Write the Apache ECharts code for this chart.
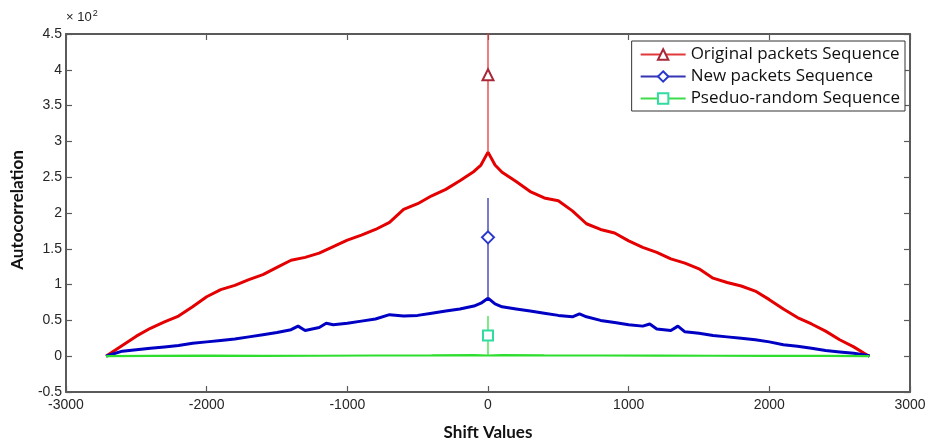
<!DOCTYPE html>
<html><head><meta charset="utf-8">
<script src="https://cdn.jsdelivr.net/npm/echarts@6/dist/echarts.min.js"></script>
<style>html,body{margin:0;padding:0;background:#fff}#c{width:931px;height:444px}</style>
</head><body><div id="c"></div>
<script>
// ---- data (autocorrelation in units of 10^2) ----
const seriesNames = ['Original packets Sequence', 'New packets Sequence', 'Pseduo-random Sequence'];

const originalShift = [-2715,-2700,-2600,-2500,-2400,-2300,-2200,-2100,-2000,-1900,-1800,-1700,-1600,-1500,-1400,-1300,-1200,-1100,-1000,-900,-800,-700,-600,-500,-400,-300,-200,-100,-50,0,50,100,200,300,400,500,600,700,800,900,1000,1100,1200,1300,1400,1500,1600,1700,1800,1900,2000,2100,2200,2300,2400,2500,2600,2700,2712];
const originalValue = [0,0.02,0.15,0.28,0.39,0.48,0.56,0.69,0.83,0.93,0.99,1.07,1.14,1.24,1.34,1.38,1.44,1.53,1.62,1.69,1.77,1.87,2.05,2.13,2.24,2.33,2.45,2.58,2.67,2.85,2.67,2.57,2.44,2.30,2.21,2.17,2.03,1.85,1.77,1.72,1.61,1.52,1.45,1.36,1.30,1.22,1.09,1.03,0.98,0.91,0.79,0.66,0.54,0.45,0.35,0.23,0.13,0.01,0];

const newShift = [-2715,-2700,-2600,-2500,-2400,-2300,-2200,-2100,-2000,-1900,-1800,-1700,-1600,-1500,-1400,-1350,-1300,-1200,-1150,-1100,-1000,-900,-800,-700,-600,-500,-400,-300,-200,-100,-50,0,50,100,200,300,400,500,600,650,700,800,900,1000,1100,1150,1200,1300,1350,1400,1500,1600,1700,1800,1900,2000,2100,2200,2300,2400,2500,2600,2700,2712];
const newValue = [0,0.01,0.07,0.09,0.11,0.13,0.15,0.18,0.20,0.22,0.24,0.27,0.30,0.33,0.37,0.42,0.36,0.40,0.46,0.44,0.46,0.49,0.52,0.58,0.56,0.57,0.60,0.63,0.66,0.70,0.74,0.81,0.73,0.69,0.66,0.63,0.60,0.57,0.55,0.59,0.55,0.50,0.47,0.44,0.42,0.45,0.38,0.36,0.42,0.34,0.32,0.29,0.27,0.25,0.23,0.20,0.16,0.14,0.11,0.08,0.06,0.04,0.01,0];

const pseudoShift = [-2715,-2400,-2000,-1600,-1200,-800,-400,-100,0,100,400,800,1200,1600,2000,2400,2712];
const pseudoValue = [0,0.005,0.008,0.004,0.006,0.01,0.012,0.015,0.01,0.015,0.012,0.01,0.008,0.006,0.005,0.004,0];

// zero-shift peak of each sequence: [curve base, marker, top of spike]
const peakShift = 0;
const peakBase   = [2.85, 0.81, 0.01];
const peakMarker = [3.93, 1.66, 0.29];
const peakTop    = [5.00, 2.21, 0.56];

const xTickLabels = ['-3000','-2000','-1000','0','1000','2000','3000'];
const yTickLabels = ['-0.5','0','0.5','1','1.5','2','2.5','3','3.5','4','4.5'];

// ---- styles ----
const curveColors  = ['#e40000', '#0000c4', '#2ede2e'];
const curveWidths  = [3, 3, 2.2];
const spikeColors  = ['#e23a3a', '#3434b4', '#3edc4a'];
const markerColors = ['#a8283a', '#2a38cc', '#30dca0'];
const markerSymbols = ['emptyTriangle', 'emptyDiamond', 'emptyRect'];
const markerSizes = [11, 12, 10];

const zip = (a, b) => a.map((v, i) => [v, b[i]]);
const curves = [zip(originalShift, originalValue), zip(newShift, newValue), zip(pseudoShift, pseudoValue)];

const series = [];
curves.forEach((d, i) => {
  series.push({
    name: 'curve' + i, type: 'line', data: d, symbol: 'none', silent: true,
    lineStyle: { color: curveColors[i], width: curveWidths[i] }, z: 2 + i, animation: false
  });
});
seriesNames.forEach((name, i) => {
  series.push({
    name: name, type: 'line', symbol: markerSymbols[i], symbolSize: markerSizes[i],
    showSymbol: true, animation: false, z: 10,
    itemStyle: { color: markerColors[i], borderWidth: 1.2 },
    lineStyle: { color: spikeColors[i], width: 1.3 },
    data: [
      { value: [peakShift, peakBase[i]], symbol: 'none' },
      { value: [peakShift, peakMarker[i]] },
      { value: [peakShift, peakTop[i]], symbol: 'none' }
    ]
  });
});

const axisLine = { show: true, onZero: false, lineStyle: { color: '#5a5a5a', width: 2 } };
const tick = { show: true, inside: true, length: 6, lineStyle: { color: '#5a5a5a', width: 1.2 } };
const labelFont = { color: '#262626', fontSize: 14, fontFamily: '"Liberation Sans Narrow", "Liberation Sans", Arial, sans-serif' };

const chart = echarts.init(document.getElementById('c'), null, { renderer: 'canvas' });
chart.setOption({
  animation: false,
  backgroundColor: '#fff',
  grid: { left: 66, right: 21, top: 34, bottom: 52, containLabel: false },
  xAxis: [
    { type: 'value', min: -3000, max: 3000, interval: 1000, position: 'bottom',
      axisLine: axisLine, axisTick: tick, splitLine: { show: false },
      axisLabel: Object.assign({ margin: 6, showMinLabel: true, showMaxLabel: true,
        formatter: (v) => xTickLabels[Math.round((v + 3000) / 1000)] }, labelFont) },
    { type: 'value', min: -3000, max: 3000, interval: 1000, position: 'top',
      axisLine: axisLine, axisTick: tick, splitLine: { show: false }, axisLabel: { show: false } }
  ],
  yAxis: [
    { type: 'value', min: -0.5, max: 4.5, interval: 0.5, position: 'left',
      axisLine: axisLine, axisTick: tick, splitLine: { show: false },
      axisLabel: Object.assign({ margin: 4, showMinLabel: true, showMaxLabel: true,
        formatter: (v) => yTickLabels[Math.round((v + 0.5) / 0.5)] }, labelFont) },
    { type: 'value', min: -0.5, max: 4.5, interval: 0.5, position: 'right',
      axisLine: axisLine, axisTick: tick, splitLine: { show: false }, axisLabel: { show: false } }
  ],
  legend: {
    data: seriesNames, orient: 'vertical', right: 26, top: 41,
    itemWidth: 45, itemHeight: 13, itemGap: 5, padding: [5, 5, 4, 8],
    borderColor: '#333', borderWidth: 1, borderRadius: 0, backgroundColor: '#fff',
    textStyle: { fontFamily: '"Open Sans", Lato, sans-serif', fontSize: 17, color: '#111' },
    selectedMode: false
  },
  graphic: [
    { type: 'text', left: 66, top: 9, style: {
        text: '× 10{s|2}', fill: '#222', font: '13px "Liberation Sans", Arial, sans-serif',
        rich: { s: { fontSize: 9, verticalAlign: 'top', padding: [0, 0, 8, 1] } } } },
    { type: 'text', x: 18, y: 210, rotation: Math.PI / 2, style: {
        text: 'Autocorrelation', fill: '#111', align: 'center', verticalAlign: 'middle',
        font: 'bold 17px Lato, "Open Sans", sans-serif' } },
    { type: 'text', x: 488, y: 433, style: {
        text: 'Shift Values', fill: '#111', align: 'center', verticalAlign: 'middle',
        font: 'bold 17px Lato, "Open Sans", sans-serif' } }
  ],
  series: series
});
</script></body></html>
